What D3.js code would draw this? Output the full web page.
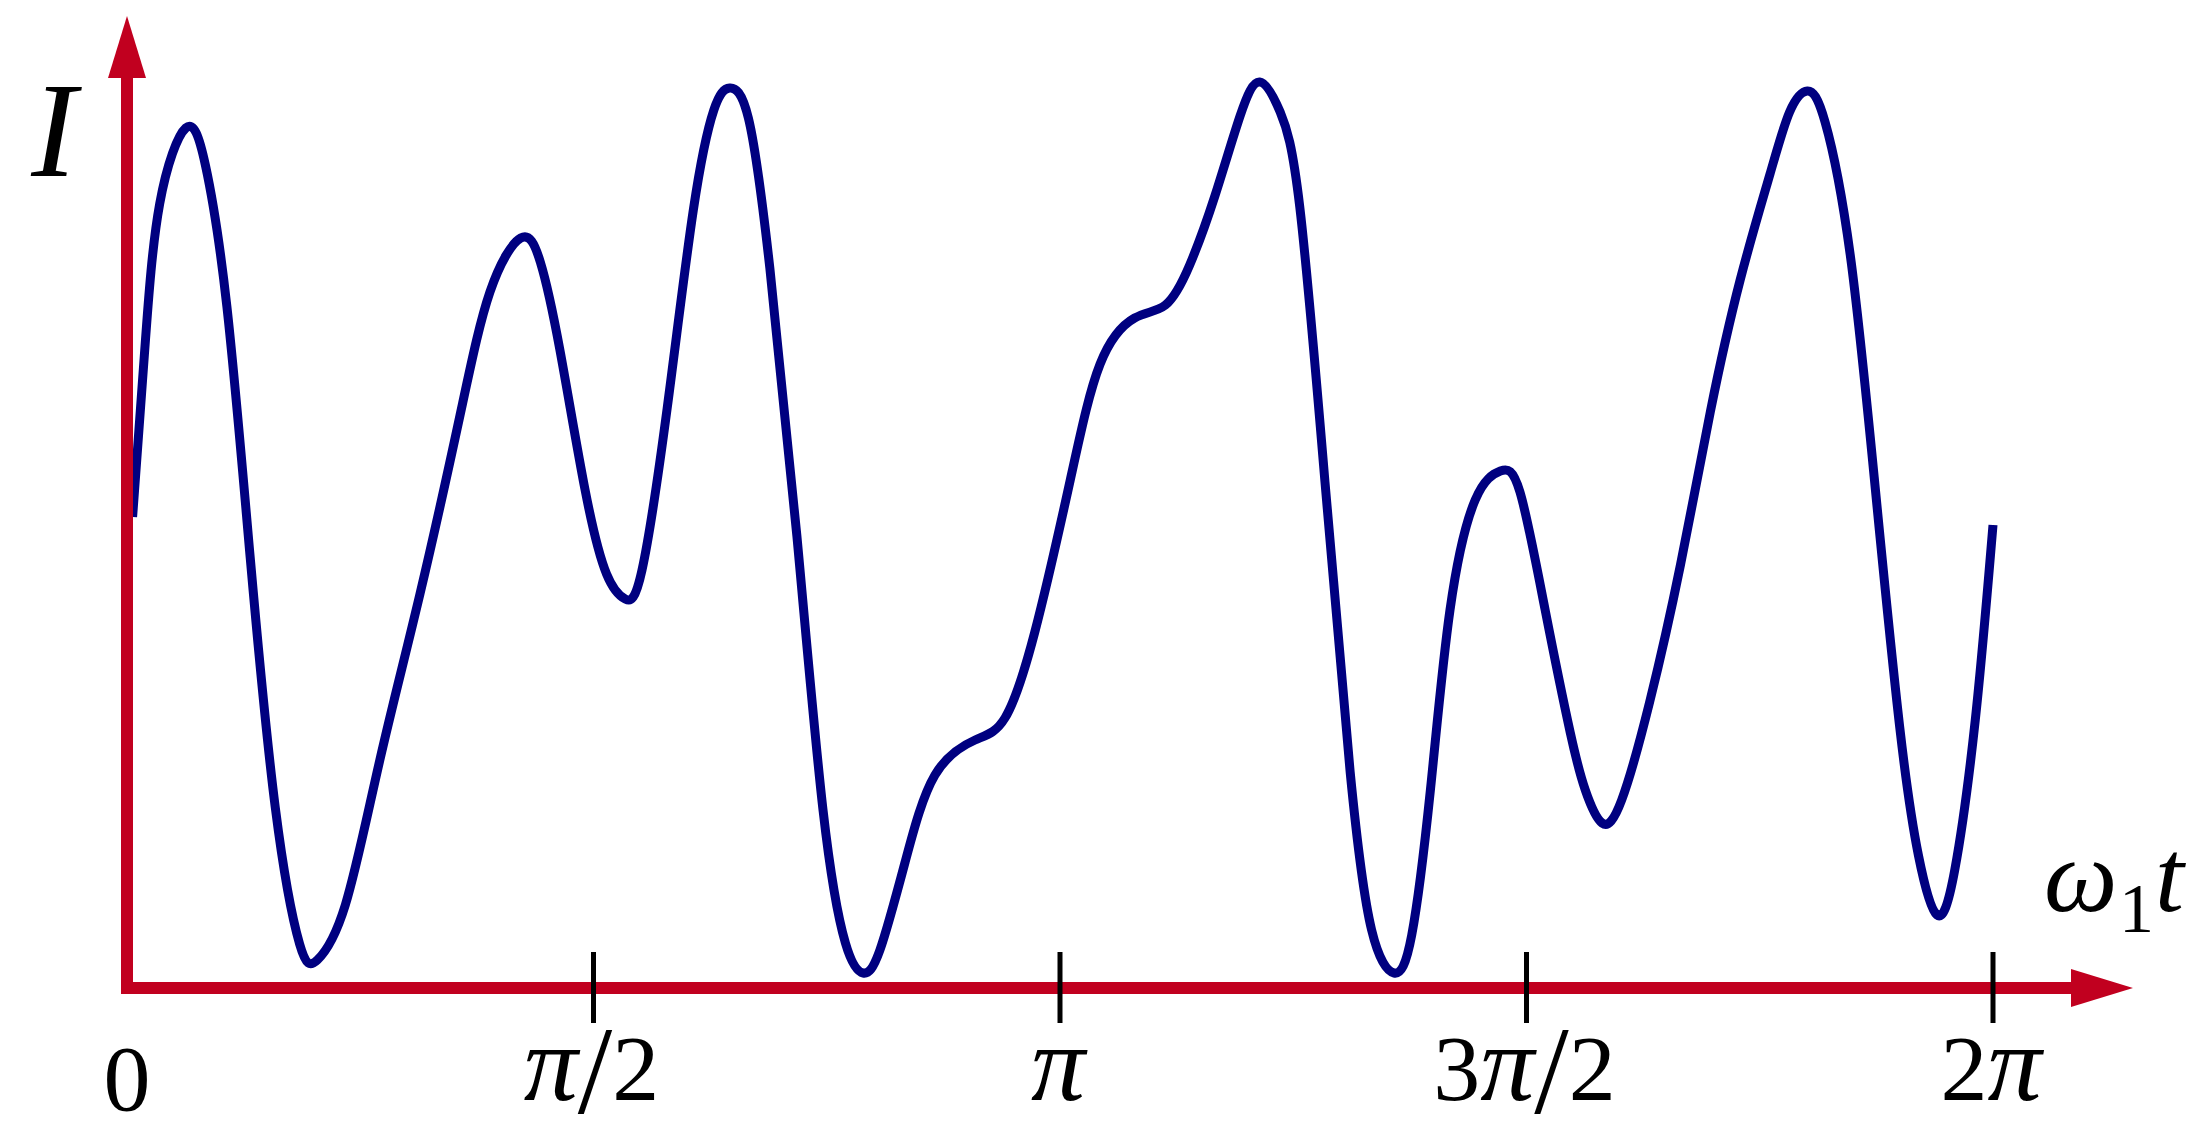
<!DOCTYPE html>
<html>
<head>
<meta charset="utf-8">
<script src="https://cdn.jsdelivr.net/npm/d3@7"></script>
<style>
  html, body { margin: 0; padding: 0; background: #fff; overflow: hidden; }
</style>
</head>
<body>
<script>
// ω1t em unidades de π (a curva começa na borda do eixo)
const phase = [
    0.006, 0.019, 0.035, 0.063,
    0.084, 0.107, 0.132, 0.159, 0.185, 0.204,
    0.234, 0.271, 0.314, 0.357, 0.389, 0.422,
    0.443, 0.464, 0.491, 0.514, 0.534,
    0.552, 0.579, 0.607, 0.629, 0.646,
    0.666, 0.689, 0.718, 0.746, 0.770, 0.789,
    0.807, 0.834, 0.866, 0.909, 0.941, 0.973, 1.011, 1.043, 1.080, 1.113, 1.139, 1.166, 1.193, 1.214,
    1.236, 1.257, 1.284, 1.311, 1.334, 1.358,
    1.377, 1.397, 1.418, 1.445, 1.472,
    1.493, 1.520, 1.547, 1.563, 1.581,
    1.602, 1.632, 1.665, 1.697, 1.729, 1.761, 1.782, 1.801,
    1.820, 1.847, 1.874, 1.900, 1.920, 1.940,
    1.959, 1.981, 2.000
];

// intensidade I (unidades arbitrárias, 0 = eixo horizontal)
const intensity = [
    47.1, 63.8, 78.4, 86.0,
    82.3, 68.2, 43.1, 18.0, 4.4, 2.8,
    8.3, 22.8, 39.4, 57.3, 69.6, 75.0,
    72.6, 63.8, 49.8, 41.4, 38.9,
    41.8, 58.0, 77.8, 87.8, 90.0,
    87.0, 72.0, 45.2, 17.8, 4.5, 1.5,
    3.8, 12.6, 21.3, 24.8, 27.0, 35.6, 50.8, 62.4, 67.0, 68.3, 72.3, 79.2, 87.2, 90.6,
    87.6, 78.1, 50.6, 21.6, 5.8, 1.5,
    5.3, 19.8, 37.8, 48.8, 51.7,
    49.6, 37.8, 25.5, 19.8, 16.5,
    18.8, 28.6, 42.3, 57.6, 70.8, 81.4, 87.6, 89.7,
    86.6, 73.3, 49.8, 26.1, 13.3, 7.3,
    11.8, 26.8, 46.3
];

const tickValues = [0.5, 1, 1.5, 2];
const tickLabels = ["π/2", "π", "3π/2", "2π"];

document.addEventListener("DOMContentLoaded", () => {
    const width = 2197;
    const height = 1146;
    const red = "#c1001f";
    const font = "'Liberation Serif', 'Times New Roman', serif";

    const svg = d3.select("body").append("svg")
        .attr("width", width)
        .attr("height", height)
        .style("background", "#fff");

    const x = d3.scaleLinear().domain([0, 2]).range([127, 1993]);
    const y = d3.scaleLinear().domain([0, 97]).range([988, 18]);

    // curva
    const line = d3.line()
        .x((d, i) => x(phase[i]))
        .y(d => y(d))
        .curve(d3.curveNatural);

    svg.append("path")
        .datum(intensity)
        .attr("d", line)
        .attr("fill", "none")
        .attr("stroke", "#000080")
        .attr("stroke-width", 9);

    const x0 = x(0);
    const y0 = y(0);

    // eixo vertical com seta
    svg.append("line")
        .attr("x1", x0).attr("y1", y0 + 6)
        .attr("x2", x0).attr("y2", 76)
        .attr("stroke", red)
        .attr("stroke-width", 12);
    svg.append("polygon")
        .attr("points", `${x0},16 ${x0 - 19},78 ${x0 + 19},78`)
        .attr("fill", red);

    // eixo horizontal com seta
    const xEnd = x.range()[1] + 80;
    svg.append("line")
        .attr("x1", x0 - 6).attr("y1", y0)
        .attr("x2", xEnd).attr("y2", y0)
        .attr("stroke", red)
        .attr("stroke-width", 12);
    svg.append("polygon")
        .attr("points", `${xEnd + 60},${y0} ${xEnd - 2},${y0 - 19} ${xEnd - 2},${y0 + 19}`)
        .attr("fill", red);

    // marcas
    svg.selectAll(".tick")
        .data(tickValues)
        .enter()
        .append("line")
        .attr("class", "tick")
        .attr("x1", d => x(d)).attr("x2", d => x(d))
        .attr("y1", y0 - 36).attr("y2", y0 + 35)
        .attr("stroke", "#000")
        .attr("stroke-width", 5);

    // texto com π em itálico e barra grande
    function mathLabel(g, str) {
        let shifted = false;
        for (const ch of str) {
            const t = g.append("tspan").text(ch);
            if (ch === "π") {
                t.style("font-style", "italic").style("font-size", "108px");
            }
            if (ch === "/") {
                t.style("font-size", "124px").attr("dy", 13);
                shifted = true;
            } else if (shifted) {
                t.attr("dy", -13);
                shifted = false;
            }
        }
    }

    svg.selectAll(".tick-label")
        .data(tickValues)
        .enter()
        .append("text")
        .attr("class", "tick-label")
        .attr("x", d => x(d) - 2)
        .attr("y", 1100)
        .attr("text-anchor", "middle")
        .style("font-family", font)
        .style("font-size", "94px")
        .each(function (d, i) {
            mathLabel(d3.select(this), tickLabels[i]);
        });

    svg.append("text")
        .attr("x", x0)
        .attr("y", 1110)
        .attr("text-anchor", "middle")
        .style("font-family", font)
        .style("font-size", "94px")
        .text("0");

    // rótulos dos eixos
    svg.append("text")
        .attr("x", 54)
        .attr("y", 176)
        .attr("text-anchor", "middle")
        .style("font-family", font)
        .style("font-style", "italic")
        .style("font-size", "136px")
        .text("I");

    const xl = svg.append("text")
        .attr("y", 911)
        .style("font-family", font)
        .style("font-size", "104px");
    xl.append("tspan").attr("x", 2044).style("font-style", "italic").text("ω");
    xl.append("tspan").attr("x", 2119).attr("dy", 21).style("font-size", "70px").text("1");
    xl.append("tspan").attr("x", 2155).attr("dy", -21).style("font-style", "italic").text("t");
});
</script>
</body>
</html>
